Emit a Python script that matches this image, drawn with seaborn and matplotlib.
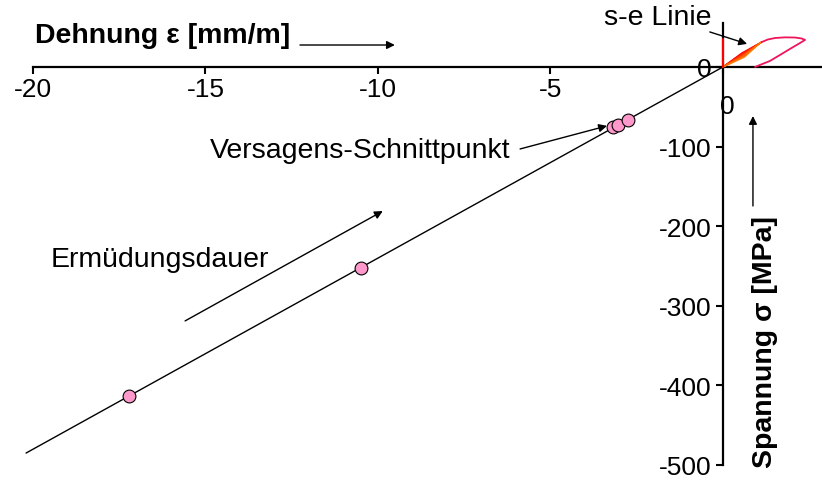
import numpy as np
import pandas as pd
import matplotlib
matplotlib.use("Agg")
import matplotlib.pyplot as plt
import seaborn as sns

# Failure line through the origin (strain in mm/m, stress in MPa)
line_strain = [-20.2, 0.0]
line_stress = [-485.0, 0.0]

# Failure intersection points on the line
point_strain = [-17.22, -10.49, -3.19, -3.04, -2.75]
point_stress = [-413.0, -252.0, -76.0, -73.0, -66.0]

# Stress-strain hysteresis loop
loop_strain = [1.13, 1.3, 1.51, 1.8, 2.09, 2.28, 2.38, 2.23, 1.94, 1.65, 1.36, 1.07, 0.93]
loop_stress = [31.4, 34.5, 36.4, 37.2, 37.0, 35.8, 34.0, 30.0, 22.6, 15.0, 7.5, 2.5, 0.0]

# Loading branches of the individual cycles (start, middle, end)
branch_mid_strain = [0.55, 0.56, 0.57, 0.58, 0.60, 0.62]
branch_mid_stress = [17.5, 16.5, 15.5, 14.5, 13.5, 12.5]
branch_end_strain = [1.13, 1.12, 1.11, 1.10, 1.09, 1.08]
branch_end_stress = [31.4, 31.2, 31.0, 30.8, 30.6, 30.4]
branch_colors = ["#FF0000", "#FF1800", "#FF3000", "#FF4800", "#FF6000", "#FF7800"]

# Initial vertical loading segment
initial_strain = [0.0, 0.0]
initial_stress = [0.0, 35.0]

x_ticks = [-20, -15, -10, -5, 0]
x_tick_labels = ["-20", "-15", "-10", "-5", ""]
y_ticks = [-500, -400, -300, -200, -100, 0]
y_tick_labels = ["-500", "-400", "-300", "-200", "-100", "0"]

sns.set_theme(style="white")
plt.rcParams["font.family"] = ["Liberation Sans", "DejaVu Sans"]

fig = plt.figure(figsize=(8.22, 4.81), dpi=100)
ax = fig.add_axes([0.0401, 0.0312, 0.959, 0.9185])
ax.set_xlim(-20, 2.85)
ax.set_ylim(-500, 55)

line_df = pd.DataFrame({"strain": line_strain, "stress": line_stress})
sns.lineplot(data=line_df, x="strain", y="stress", ax=ax, color="black",
             linewidth=1.0, sort=False, estimator=None, clip_on=False, zorder=3)

for xm, ym, xe, ye, c in zip(branch_mid_strain, branch_mid_stress,
                             branch_end_strain, branch_end_stress, branch_colors):
    bdf = pd.DataFrame({"strain": [0.0, xm, xe], "stress": [0.0, ym, ye]})
    sns.lineplot(data=bdf, x="strain", y="stress", ax=ax, color=c,
                 linewidth=1.1, sort=False, estimator=None, clip_on=False, zorder=4)

loop_df = pd.DataFrame({"strain": loop_strain, "stress": loop_stress})
sns.lineplot(data=loop_df, x="strain", y="stress", ax=ax, color="#F0145A",
             linewidth=1.3, sort=False, estimator=None, clip_on=False, zorder=4)

init_df = pd.DataFrame({"strain": initial_strain, "stress": initial_stress})
sns.lineplot(data=init_df, x="strain", y="stress", ax=ax, color="#FF0000",
             linewidth=1.5, sort=False, estimator=None, clip_on=False, zorder=5)

pts_df = pd.DataFrame({"strain": point_strain, "stress": point_stress})
sns.scatterplot(data=pts_df, x="strain", y="stress", ax=ax, s=85,
                color="#FF99CC", edgecolor="black", linewidth=0.8, zorder=6, clip_on=False)

# Axes crossing at the origin
for side in ["top", "right"]:
    ax.spines[side].set_visible(False)
ax.spines["left"].set_position(("data", 0))
ax.spines["bottom"].set_position(("data", 0))
for side in ["left", "bottom"]:
    ax.spines[side].set_linewidth(1.6)
    ax.spines[side].set_color("black")
    ax.spines[side].set_zorder(2)

ax.set_xticks(x_ticks)
ax.set_xticklabels(x_tick_labels)
ax.set_yticks(y_ticks)
ax.set_yticklabels(y_tick_labels)
ax.tick_params(axis="both", direction="out", length=5, width=1.5, color="black",
               labelsize=19, labelcolor="black", bottom=True, left=True)
ax.tick_params(axis="x", pad=2)
ax.tick_params(axis="y", pad=3)
ax.set_xlabel("")
ax.set_ylabel("")
ax.grid(False)

ax.text(0.12, -49, "0", fontsize=19, ha="center", va="center", color="black")

txt = dict(color="black", clip_on=False)
ax.text(-19.94, 40, "Dehnung ε [mm/m]", fontsize=20.5, fontweight="bold",
        ha="left", va="center", **txt)
ax.text(-19.5, -241, "Ermüdungsdauer", fontsize=20.5, ha="left", va="center", **txt)
ax.text(-14.87, -104, "Versagens-Schnittpunkt", fontsize=20.5, ha="left", va="center", **txt)
ax.text(-0.32, 63, "s-e Linie", fontsize=20.5, ha="right", va="center", **txt)
ax.text(1.22, -344, "Spannung σ [MPa]", fontsize=20.5, fontweight="bold",
        rotation=90, ha="center", va="center", **txt)

arrow = dict(arrowstyle="-|>", color="black", lw=1.0, mutation_scale=12,
             shrinkA=0, shrinkB=0)
ax.annotate("", xy=(-9.51, 27.6), xytext=(-12.26, 27.6), arrowprops=arrow, annotation_clip=False)
ax.annotate("", xy=(-9.86, -181), xytext=(-15.59, -319), arrowprops=arrow, annotation_clip=False)
ax.annotate("", xy=(-3.36, -74), xytext=(-5.88, -103), arrowprops=arrow, annotation_clip=False)
ax.annotate("", xy=(0.70, 29), xytext=(-0.38, 44), arrowprops=arrow, annotation_clip=False)
ax.annotate("", xy=(0.87, -61.6), xytext=(0.87, -174.6), arrowprops=arrow, annotation_clip=False)

fig.savefig("out.png", dpi=100)
